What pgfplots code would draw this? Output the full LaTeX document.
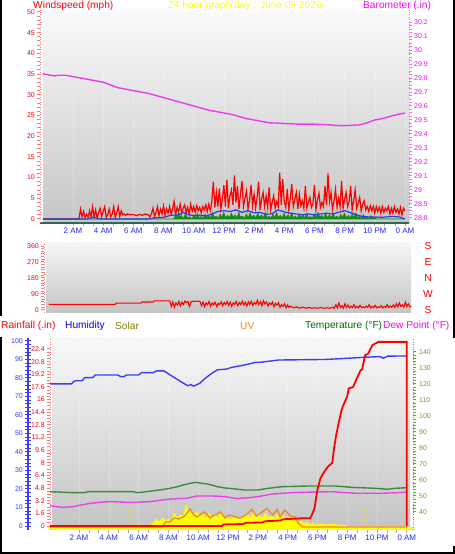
\documentclass[border=0pt]{standalone}
\usepackage{pgfplots}
\pgfplotsset{compat=1.18}
\usepackage{fontspec}
\setmainfont{Liberation Sans}

\definecolor{wsred}{RGB}{255,0,0}
\definecolor{tickred}{RGB}{255,120,120}
\definecolor{baromag}{RGB}{235,60,235}
\definecolor{labmag}{RGB}{255,0,255}
\definecolor{timeblue}{RGB}{40,40,255}
\definecolor{windgreen}{RGB}{20,140,20}
\definecolor{avgblue}{RGB}{40,60,235}
\definecolor{axisteal}{RGB}{45,105,85}
\definecolor{humblue}{RGB}{60,60,255}
\definecolor{tempgreen}{RGB}{60,140,60}
\definecolor{tempaxis}{RGB}{80,175,80}
\definecolor{templabel}{RGB}{140,140,40}
\definecolor{legendgreen}{RGB}{0,110,0}
\definecolor{dewmag}{RGB}{230,70,230}
\definecolor{uvorange}{RGB}{240,140,45}
\definecolor{solaryellow}{RGB}{255,255,0}
\definecolor{solarolive}{RGB}{128,128,0}
\definecolor{sunmark}{RGB}{240,220,0}

\newcommand\ticksize{\fontsize{7}{8}\selectfont}
\newcommand\timesize{\fontsize{8}{9}\selectfont}
\newcommand\titlesize{\fontsize{10.2}{12}\selectfont}

\pgfplotsset{
  panel/.style={scale only axis, anchor=south west, clip=true,
    /pgf/number format/assume math mode=true,
    tick align=outside, major tick length=3bp, minor tick length=3bp},
  timeaxis/.style={axis y line=none, axis x line*=bottom,
    xtick={2,4,...,24},
    xticklabels={2 AM,4 AM,6 AM,8 AM,10 AM,12 PM,2 PM,4 PM,6 PM,8 PM,10 PM,0 AM},
    minor x tick num=2, tick style={draw=gray!65, line width=0.8bp},
    xticklabel style={font=\timesize, text=timeblue, inner sep=1.5bp},
    xmajorgrids, major grid style={draw=white, dotted, line width=0.5bp, opacity=0.45}},
}

\begin{document}
\begin{tikzpicture}
\useasboundingbox (0bp,0bp) rectangle (455bp,554bp);
\fill[white] (0bp,0bp) rectangle (455bp,554bp);

% panel backgrounds
\shade[top color={rgb,255:red,250;green,250;blue,250}, bottom color={rgb,255:red,198;green,198;blue,198}]
  (43bp,331bp) rectangle (409bp,544bp);
\shade[top color={rgb,255:red,246;green,246;blue,246}, bottom color={rgb,255:red,196;green,196;blue,196}]
  (46bp,241bp) rectangle (411bp,311bp);
\shade[top color={rgb,255:red,248;green,248;blue,248}, bottom color={rgb,255:red,196;green,196;blue,196}]
  (52bp,24bp) rectangle (410bp,216bp);

% outer frame pieces
\fill[black] (0bp,0bp) rectangle (455bp,1.6bp);
\fill[black] (0bp,0bp) rectangle (1.8bp,217bp);
\fill[black] (0bp,238bp) rectangle (1.8bp,554bp);
\fill[black] (453.2bp,216bp) rectangle (455bp,554bp);
\fill[black] (453.2bp,0bp) rectangle (455bp,8bp);

% ---------- wind panel: time axis ----------
\begin{axis}[panel, timeaxis, at={(40bp,331bp)}, width=369bp, height=213bp,
  xmin=-0.186, xmax=24.268, ymin=0, ymax=1,
  x axis line style={draw=axisteal, line width=1.8bp, -}]
\end{axis}

% ---------- wind speed ----------
\begin{axis}[panel, at={(40bp,331bp)}, width=369bp, height=213bp,
  xmin=-0.186, xmax=24.268, ymin=-0.97, ymax=50.48,
  axis x line=none, axis y line*=left,
  y axis line style={draw=tickred, dash pattern=on 1bp off 1.5bp, line width=0.9bp, -},
  ytick={0,5,...,50}, yticklabels={0,5,10,15,20,25,30,35,40,45,50},
  minor y tick num=4, tick style={draw=tickred, line width=1bp},
  yticklabel style={font=\ticksize, text=wsred, inner sep=2bp}]
% gust
\addplot[wsred, line width=1.2bp] coordinates {
(0,0)(2.4,0)(2.5,2.4)(2.6,0.5)(2.7,1.8)(2.8,0.3)(2.9,1.2)(3.0,0.4)(3.1,2.0)(3.2,0.5)
(3.3,3.0)(3.4,0.4)(3.5,2.2)(3.6,0.3)(3.7,1.5)(3.8,2.6)(3.9,0.6)(4.0,1.8)(4.1,3.0)(4.2,0.4)
(4.3,1.0)(4.4,2.4)(4.5,0.5)(4.6,1.2)(4.7,3.0)(4.8,0.4)(4.9,1.5)(5.0,3.0)(5.1,0.6)(5.2,2.0)
(5.3,1.0)(5.4,1.2)(5.5,0.9)(5.6,1.2)(5.8,1.0)(6.0,1.1)(6.2,0.8)(6.4,1.1)(6.6,0.9)(6.8,1.2)
(7.0,1.0)(7.1,0.5)(7.2,1.2)(7.3,2.6)(7.4,0.6)(7.5,1.5)(7.6,3.0)(7.7,0.8)(7.8,2.4)(7.9,1.2)
(8.0,3.2)(8.1,0.8)(8.2,2.5)(8.3,1.4)(8.4,3.0)(8.5,1.2)(8.6,2.4)(8.7,4.2)(8.8,1.0)(8.9,2.8)
(9.0,1.6)(9.1,3.6)(9.2,1.4)(9.3,2.6)(9.4,3.4)(9.5,1.5)(9.6,2.8)(9.7,1.2)(9.8,3.6)(9.9,1.8)
(10.0,3.0)(10.1,1.6)(10.2,3.2)(10.3,2.0)(10.4,2.8)(10.5,1.5)(10.6,3.0)(10.7,2.2)(10.8,3.4)(10.9,1.8)
(11.0,3.6)(11.1,2.0)(11.2,4.2)(11.3,9.0)(11.4,2.8)(11.5,6.5)(11.6,3.0)(11.7,7.4)(11.8,2.5)(11.9,4.8)
(12.0,8.2)(12.1,3.0)(12.2,9.4)(12.3,2.6)(12.4,5.5)(12.5,7.0)(12.6,3.4)(12.7,10.5)(12.8,4.0)(12.9,8.0)
(13.0,2.4)(13.1,6.0)(13.2,9.2)(13.3,3.0)(13.4,5.0)(13.5,6.8)(13.6,2.4)(13.7,4.5)(13.8,8.2)(13.9,3.2)
(14.0,6.0)(14.1,2.6)(14.2,5.2)(14.3,9.0)(14.4,2.2)(14.5,4.8)(14.6,6.4)(14.7,3.0)(14.8,5.5)(14.9,2.8)
(15.0,7.6)(15.1,2.2)(15.2,4.0)(15.3,5.6)(15.4,2.6)(15.5,4.2)(15.6,3.0)(15.7,11.2)(15.8,3.4)(15.9,9.6)
(16.0,4.2)(16.1,2.8)(16.2,7.2)(16.3,2.2)(16.4,5.0)(16.5,8.4)(16.6,3.0)(16.7,4.6)(16.8,6.4)(16.9,2.4)
(17.0,6.0)(17.1,3.2)(17.2,4.4)(17.3,2.6)(17.4,8.0)(17.5,2.6)(17.6,4.0)(17.7,5.2)(17.8,2.8)(17.9,3.6)
(18.0,8.2)(18.1,2.2)(18.2,4.6)(18.3,6.2)(18.4,2.8)(18.5,4.0)(18.6,3.0)(18.7,8.0)(18.8,3.4)(18.9,11.0)
(19.0,4.2)(19.1,6.4)(19.2,2.4)(19.3,4.4)(19.4,7.2)(19.5,2.8)(19.6,5.0)(19.7,3.0)(19.8,9.2)(19.9,2.6)
(20.0,4.8)(20.1,6.4)(20.2,3.0)(20.3,4.2)(20.4,8.0)(20.5,2.2)(20.6,4.4)(20.7,7.0)(20.8,2.6)(20.9,3.8)
(21.0,5.2)(21.1,2.0)(21.2,3.6)(21.3,4.4)(21.4,2.2)(21.5,3.0)(21.6,1.8)(21.7,3.2)(21.8,2.0)(21.9,3.0)
(22.0,1.4)(22.1,3.0)(22.2,1.8)(22.3,2.8)(22.4,1.4)(22.5,3.0)(22.6,1.6)(22.7,2.6)(22.8,2.0)(22.9,3.0)
(23.0,1.2)(23.1,2.6)(23.2,1.4)(23.3,3.0)(23.4,1.6)(23.5,2.4)(23.6,1.2)(23.7,2.8)(23.8,1.0)(23.9,2.6)
(24.0,2.0)};
% direction-steady wind
\addplot[draw=windgreen, fill=windgreen, line width=0.6bp] coordinates {
(0,0)(8.7,0)(8.8,1.2)(8.9,0.2)(9.0,1.6)(9.1,0.4)(9.2,0.9)(9.3,0)(9.45,1.2)(9.6,0.2)(9.75,0.5)
(9.9,0)(10.0,1.0)(10.1,0.2)(10.25,1.4)(10.35,0.3)(10.5,0.6)(10.6,0)(10.75,1.2)(10.85,0.3)
(11.0,0.8)(11.1,0.2)(11.25,1.6)(11.35,0.4)(11.5,0.7)(11.6,0.1)(11.75,1.2)(11.85,0.4)(12.0,1.6)
(12.1,0.3)(12.25,0.9)(12.35,0.2)(12.5,1.4)(12.6,0.4)(12.75,1.0)(12.85,0.2)(13.0,1.6)(13.1,0.4)
(13.25,0.7)(13.35,0.1)(13.5,1.2)(13.6,0.3)(13.75,1.5)(13.85,0.4)(14.0,0.9)(14.1,0.2)(14.25,1.4)
(14.35,0.4)(14.5,1.0)(14.6,0.2)(14.75,1.6)(14.85,0.3)(15.0,0.7)(15.1,0.1)(15.25,1.2)(15.35,0.3)
(15.5,1.5)(15.6,0.4)(15.75,0.9)(15.85,0.2)(16.0,1.4)(16.1,0.3)(16.25,1.0)(16.35,0.2)(16.5,1.5)
(16.6,0.3)(16.75,0.7)(16.85,0.1)(17.0,1.2)(17.1,0.3)(17.25,1.0)(17.35,0.2)(17.5,1.4)(17.6,0.3)
(17.75,0.6)(17.85,0.1)(18.0,1.2)(18.1,0.3)(18.25,1.6)(18.35,0.4)(18.5,0.9)(18.6,0.2)(18.75,1.4)
(18.85,0.3)(19.0,1.0)(19.1,0.2)(19.25,1.5)(19.35,0.3)(19.5,0.7)(19.6,0.1)(19.75,1.2)(19.85,0.3)
(20.0,1.4)(20.1,0.3)(20.25,0.9)(20.35,0.2)(20.5,1.2)(20.6,0.3)(20.75,1.5)(20.85,0.3)(21.0,0.7)
(21.1,0.1)(21.25,1.0)(21.35,0.2)(21.5,0.5)(21.6,0)(21.75,0.8)(21.85,0.1)(22.0,0.4)(22.1,0)
(24.0,0)} \closedcycle;
% average wind
\addplot[avgblue, line width=1.2bp] coordinates {
(0,0)(3.0,0)(3.4,0.5)(3.7,0)(7.0,0)(7.5,0.3)(8.0,0.4)(8.5,0.9)(9.0,1.0)(9.3,1.6)(9.6,1.1)
(10.0,0.8)(10.4,0.9)(10.8,0.7)(11.2,1.2)(11.6,1.8)(12.0,2.0)(12.4,1.8)(12.8,2.2)(13.2,1.6)
(13.6,2.0)(14.0,1.5)(14.4,1.6)(14.8,1.1)(15.2,1.3)(15.6,2.2)(16.0,1.7)(16.4,1.4)(16.8,1.2)
(17.2,1.0)(17.6,1.2)(18.0,1.0)(18.4,1.2)(18.8,1.4)(19.2,1.2)(19.6,1.6)(20.0,2.0)(20.4,1.5)
(20.8,1.0)(21.2,0.6)(21.6,0.5)(22.0,0.5)(22.4,0.4)(22.8,0.5)(23.2,0.6)(23.6,0.5)(24.0,0)};
\end{axis}

% ---------- barometer ----------
\begin{axis}[panel, at={(40bp,331bp)}, width=369bp, height=213bp,
  xmin=-0.186, xmax=24.268, ymin=28.764, ymax=30.286,
  axis x line=none, axis y line*=right,
  y axis line style={draw=labmag!60, dash pattern=on 1bp off 1.5bp, line width=0.9bp, -},
  ytick={28.8,28.9,29,29.1,29.2,29.3,29.4,29.5,29.6,29.7,29.8,29.9,30,30.1,30.2},
  yticklabels={28.8,28.9,29,29.1,29.2,29.3,29.4,29.5,29.6,29.7,29.8,29.9,30,30.1,30.2},
  minor y tick num=3, tick style={draw=labmag!60, line width=1bp},
  yticklabel style={font=\ticksize, text=labmag, inner sep=2bp}]
\addplot[baromag, line width=1.4bp] coordinates {
(0,29.83)(0.5,29.82)(0.8,29.815)(1.0,29.82)(1.5,29.82)(2.0,29.81)(2.5,29.80)(3.0,29.79)
(3.5,29.78)(4.0,29.77)(4.5,29.75)(5.0,29.73)(5.5,29.72)(6.0,29.71)(6.5,29.70)(7.0,29.69)
(7.5,29.675)(8.0,29.66)(8.5,29.645)(9.0,29.63)(9.5,29.615)(10.0,29.60)(10.5,29.585)(11.0,29.57)
(11.5,29.56)(12.0,29.55)(12.5,29.54)(13.0,29.525)(13.5,29.51)(14.0,29.50)(14.5,29.49)(15.0,29.48)
(15.5,29.478)(16.0,29.475)(17.0,29.47)(18.0,29.47)(19.0,29.465)(19.6,29.46)(20.0,29.46)
(20.5,29.462)(21.0,29.465)(21.5,29.48)(22.0,29.50)(22.5,29.51)(23.0,29.525)(23.5,29.54)(24.0,29.55)};
\end{axis}

% ---------- wind direction ----------
\begin{axis}[panel, at={(44bp,241bp)}, width=369bp, height=70bp,
  xmin=-0.331, xmax=24.106, ymin=-16.9, ymax=376.9,
  axis x line=none, axis y line*=left,
  y axis line style={draw=tickred, dash pattern=on 1bp off 1.5bp, line width=0.9bp, -},
  ytick={0,90,180,270,360}, yticklabels={0,90,180,270,360},
  minor y tick num=5, tick style={draw=tickred, line width=1bp},
  yticklabel style={font=\ticksize, text=wsred, inner sep=2bp}]
\addplot[wsred, line width=1.1bp] coordinates {
(0,32)(4.4,32)(4.45,39)(6.1,39)(6.15,45)(6.9,45)(6.95,51)(8.0,51)
(8.1,20)(8.2,45)(8.3,15)(8.4,40)(8.5,28)(8.6,48)(8.7,22)(8.8,44)(8.9,30)(9.0,50)(9.1,42)(9.2,48)
(9.3,20)(9.4,45)(9.5,50)(9.6,48)(9.8,50)(10.0,48)(10.1,25)(10.2,45)(10.3,18)(10.4,40)(10.5,30)
(10.6,48)(10.7,22)(10.8,40)(10.9,28)(11.0,44)(11.1,20)(11.2,38)(11.3,30)(11.4,46)(11.5,24)
(11.6,42)(11.7,30)(11.8,48)(11.9,26)(12.0,44)(12.1,20)(12.2,40)(12.3,32)(12.4,48)(12.5,25)
(12.6,42)(12.7,30)(12.8,50)(12.9,28)(13.0,44)(13.1,22)(13.2,46)(13.3,30)(13.4,50)(13.5,26)
(13.6,42)(13.7,32)(13.8,55)(13.9,30)(14.0,48)(14.1,25)(14.2,52)(14.3,34)(14.4,46)(14.5,22)
(14.6,40)(14.7,30)(14.8,45)(14.9,18)(15.0,38)(15.1,26)(15.2,42)(15.3,15)(15.4,30)(15.5,20)
(15.6,35)(15.7,12)(15.8,28)(15.9,14)(16.0,22)(16.2,12)(16.4,18)(16.6,10)(16.8,16)(17.0,10)
(17.2,14)(17.4,10)(17.6,12)(17.8,10)(18.0,14)(18.2,10)(18.4,12)(18.6,10)(18.8,16)(18.9,10)
(19.0,30)(19.1,12)(19.2,40)(19.3,14)(19.4,25)(19.5,10)(19.6,35)(19.7,15)(19.8,28)(19.9,12)
(20.0,22)(20.1,14)(20.2,30)(20.3,12)(20.4,20)(20.5,12)(20.6,26)(20.7,14)(20.8,18)(20.9,12)
(21.0,22)(21.1,14)(21.2,30)(21.3,12)(21.4,20)(21.5,14)(21.6,26)(21.7,12)(21.8,18)(21.9,14)
(22.0,24)(22.1,12)(22.2,20)(22.3,16)(22.4,30)(22.5,14)(22.6,22)(22.7,16)(22.8,28)(22.9,14)
(23.0,35)(23.1,18)(23.2,40)(23.3,20)(23.4,30)(23.5,16)(23.6,44)(23.7,20)(23.8,35)(23.9,18)
(24.0,20)};
\end{axis}

% ---------- bottom panel: time axis ----------
\begin{axis}[panel, timeaxis, at={(50bp,24bp)}, width=363bp, height=192bp,
  xmin=0.054, xmax=24.416, ymin=0, ymax=1,
  x axis line style={draw=none}]
\end{axis}

% solar radiation and UV index
\begin{axis}[panel, hide axis, at={(50bp,24bp)}, width=363bp, height=192bp,
  xmin=0.054, xmax=24.416, ymin=0, ymax=192]
\addplot[draw=solaryellow, fill=solaryellow, line width=0.5bp] coordinates {
(0.054,3)(5.8,3)(6.0,6)(6.2,3)(6.6,4)(6.9,6)(7.2,11)(7.4,8)(7.6,12)(7.8,9)(8.0,11)(8.2,9)
(8.4,17)(8.6,12)(8.8,15)(9.0,14)(9.2,25)(9.35,16)(9.5,20)(9.7,14)(9.9,18)(10.1,13)(10.3,16)
(10.5,12)(10.7,17)(10.9,13)(11.1,16)(11.3,11)(11.5,17)(11.7,12)(11.9,14)(12.1,10)(12.4,13)
(12.7,11)(13.0,12)(13.3,16)(13.5,12)(13.7,17)(13.9,12)(14.1,15)(14.3,11)(14.5,17)(14.7,12)
(14.9,14)(15.1,11)(15.3,16)(15.5,11)(15.7,15)(15.9,10)(16.1,13)(16.3,10)(16.5,11)(16.7,8)
(16.9,9)(17.1,6)(17.3,8)(17.5,5)(17.7,7)(17.9,5)(18.2,6)(18.6,5)(19.0,6)(19.4,5)(19.8,5)
(20.0,3)(24.416,3)} \closedcycle;
\addplot[sunmark, dotted, line width=1.2bp] coordinates {(5.42,3)(5.42,20)};
\addplot[sunmark, dotted, line width=1.2bp] coordinates {(21.19,3)(21.19,20)};
\addplot[uvorange, line width=1.4bp] coordinates {
(0.054,3)(7.6,3)(7.8,8)(8.1,8)(8.4,12)(8.7,11)(9.1,14)(9.45,21)(9.7,15)(9.9,13)(10.2,16)
(10.45,18)(10.8,12)(11.1,15)(11.5,18)(11.8,12)(12.05,15)(12.3,14)(12.8,12)(13.2,15)(13.6,20.7)
(13.9,14)(14.3,18)(14.6,21.7)(15.0,15)(15.3,20.7)(15.5,13)(15.8,20)(16.2,14)(16.5,13)(16.7,7)
(17.0,3)(24.0,3)};
\end{axis}

% temperature and dew point
\begin{axis}[panel, at={(50bp,24bp)}, width=363bp, height=192bp,
  xmin=0.054, xmax=24.416, ymin=28.75, ymax=148.75,
  axis x line=none, axis y line*=right,
  y axis line style={draw=tempaxis, dash pattern=on 1bp off 1.5bp, line width=1bp, -},
  ytick={40,50,...,140}, yticklabels={40,50,60,70,80,90,100,110,120,130,140},
  minor y tick num=4, tick style={draw=tempaxis, line width=1bp},
  yticklabel style={font=\ticksize, text=templabel, inner sep=3bp}]
\addplot[tempgreen, line width=1.4bp] coordinates {
(0.054,52.7)(1.6,52.1)(2.4,52.1)(2.6,52.7)(3.07,52.7)(5.6,52.7)(5.9,52.1)(6.2,52.3)(7.0,53.3)
(7.6,54.0)(8.1,54.8)(8.6,55.8)(9.0,56.9)(9.5,58.0)(9.8,58.5)(10.2,58.0)(10.6,57.5)(11.0,56.6)
(11.3,55.8)(11.8,55.0)(12.1,54.8)(13.1,53.75)(14.0,53.75)(14.7,54.8)(15.6,55.8)(17.4,56.25)
(19.2,56.25)(20.3,55.4)(21.9,54.8)(22.7,54.2)(23.2,54.8)(24.0,55.2)};
\addplot[dewmag, line width=1.4bp] coordinates {
(0.054,43.9)(0.9,42.9)(1.6,43.3)(2.5,45.0)(3.3,46.0)(4.1,46.5)(4.8,46.2)(5.6,46.0)(6.8,46.5)
(7.9,47.9)(8.6,48.3)(9.2,48.5)(9.9,50.0)(11.0,50.0)(11.8,49.6)(12.5,48.5)(13.3,48.8)(14.0,49.6)
(15.0,51.25)(16.3,52.1)(17.5,52.4)(19.0,52.7)(20.5,51.7)(22.3,51.7)(23.3,52.0)(24.0,52.5)};
\end{axis}

% humidity
\begin{axis}[panel, hide axis, at={(50bp,24bp)}, width=363bp, height=192bp,
  xmin=0.054, xmax=24.416, ymin=-2.16, ymax=101.6]
\addplot[humblue, line width=1.4bp] coordinates {
(0.054,76.8)(1.5,76.8)(1.6,77.8)(1.75,78.5)(2.2,78.5)(2.4,80.2)(2.9,80.2)(3.1,81.6)(4.6,81.6)
(4.8,80.7)(5.0,80.7)(5.2,81.6)(6.0,81.6)(6.2,82.9)(7.0,82.9)(7.2,83.8)(7.7,83.8)(7.9,82.8)
(8.2,81.2)(8.6,79.2)(9.0,77.2)(9.3,75.8)(9.5,76.4)(9.7,75.6)(10.1,77.1)(10.5,80.0)(11.0,83.0)
(11.3,84.4)(11.9,84.8)(12.2,85.6)(12.5,86.1)(13.1,87.0)(13.9,88.5)(14.2,88.5)(15.4,89.7)
(18.5,90.0)(19.5,90.4)(21.2,91.2)(22.1,91.5)(22.3,91.3)(22.4,90.6)(22.6,91.3)(22.7,91.8)(24.0,91.9)};
\end{axis}

% rainfall
\begin{axis}[panel, at={(50bp,24bp)}, width=363bp, height=192bp,
  xmin=0.054, xmax=24.416, ymin=-0.506, ymax=23.79,
  axis x line=none, axis y line*=left,
  y axis line style={draw=tickred, dash pattern=on 1bp off 1.5bp, line width=0.9bp, -},
  ytick={0,1.6,3.2,4.8,6.4,8,9.6,11.2,12.8,14.4,16,17.6,19.2,20.8,22.4},
  yticklabels={0,1.6,3.2,4.8,6.4,8,9.6,11.2,12.8,14.4,16,17.6,19.2,20.8,22.4},
  minor y tick num=3, tick style={draw=tickred, line width=1bp},
  yticklabel style={font=\ticksize, text=wsred, inner sep=2bp}]
\addplot[wsred, line width=1.8bp] coordinates {
(0.054,0)(11.6,0)(11.7,0.2)(13.0,0.25)(13.2,0.4)(14.3,0.45)(14.5,0.6)(15.5,0.7)(15.7,0.85)
(16.9,0.97)(17.5,0.97)(17.6,1.27)(17.8,2.2)(18.0,4.55)(18.2,6.0)(18.4,6.7)(18.7,7.5)(19.0,8.0)
(19.1,9.6)(19.25,11.4)(19.4,12.8)(19.6,14.5)(19.7,15.1)(20.0,16.4)(20.1,17.4)(20.4,17.6)
(20.7,18.9)(20.9,19.7)(21.0,19.8)(21.2,21.6)(21.4,21.8)(21.7,22.9)(22.1,23.3)(24.0,23.3)(24.0,0)};
\end{axis}

% humidity scale
\begin{axis}[panel, at={(28bp,24bp)}, width=1bp, height=192bp,
  xmin=0, xmax=1, ymin=-2.16, ymax=101.6,
  axis x line=none, axis y line*=left,
  y axis line style={draw=humblue, line width=2.4bp, -},
  ytick={0,10,...,100}, yticklabels={0,10,20,30,40,50,60,70,80,90,100},
  minor y tick num=4, tick align=center, major tick length=6bp, minor tick length=6bp,
  tick style={draw=humblue, line width=1bp},
  yticklabel style={font=\ticksize, text=humblue, inner sep=2bp}]
\end{axis}

% headings
\node[anchor=west, inner sep=0pt, text=wsred, font=\titlesize] at (33bp,548bp) {Windspeed (mph)};
\node[anchor=west, inner sep=0pt, text=solaryellow, font=\titlesize] at (168bp,548bp) {24 hour graph day : June 08 2026};
\node[anchor=west, inner sep=0pt, text=labmag, font=\titlesize] at (363bp,548bp) {Barometer (.in)};

% compass letters beside the direction scale
\foreach \lab/\yy in {S/308, E/292, N/276, W/260, S/244}
  \node[text=wsred, font=\titlesize, inner sep=0pt] at (428bp,\yy bp) {\lab};

% legend row of the lower panel
\node[anchor=west, inner sep=0pt, text=wsred, font=\titlesize] at (1bp,228bp) {Rainfall (.in)};
\node[anchor=west, inner sep=0pt, text=blue, font=\titlesize] at (65bp,228bp) {Humidity};
\node[anchor=west, inner sep=0pt, text=solarolive, font=\titlesize] at (115bp,228bp) {Solar};
\node[anchor=west, inner sep=0pt, text=uvorange, font=\titlesize] at (240bp,228bp) {UV};
\node[anchor=west, inner sep=0pt, text=legendgreen, font=\titlesize] at (305bp,228bp) {Temperature (°F)};
\node[anchor=west, inner sep=0pt, text=labmag, font=\titlesize] at (383bp,228bp) {Dew Point (°F)};
\end{tikzpicture}
\end{document}
